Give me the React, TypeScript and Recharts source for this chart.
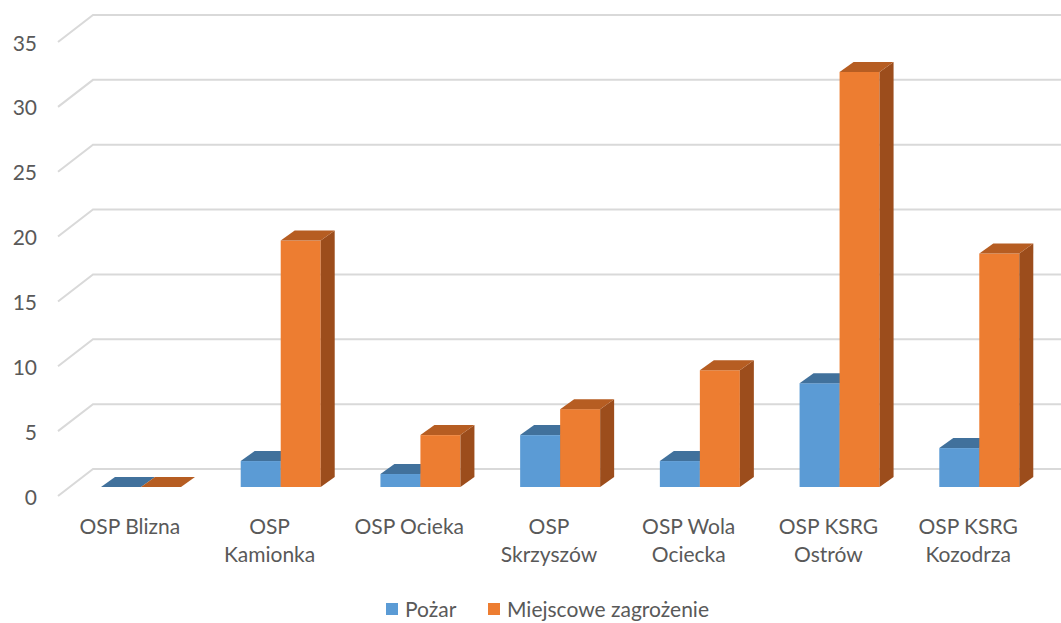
import React from "react";
import { BarChart, Bar, XAxis, YAxis, CartesianGrid, Legend } from "recharts";

const categories = [
  "OSP Blizna",
  "OSP\nKamionka",
  "OSP Ocieka",
  "OSP\nSkrzyszów",
  "OSP Wola\nOciecka",
  "OSP KSRG\nOstrów",
  "OSP KSRG\nKozodrza",
];
const pozar = [0, 2, 1, 4, 2, 8, 3];
const miejscowe = [0, 19, 4, 6, 9, 32, 18];
const yTicks = [0, 5, 10, 15, 20, 25, 30, 35];
const seriesNames = ["Pożar", "Miejscowe zagrożenie"];

const data = categories.map((c, i) => ({ name: c, pozar: pozar[i], miejscowe: miejscowe[i] }));

const FONT = "Lato, 'Open Sans', sans-serif";
const TEXT = "#595959";
const DX = 14;
const DY = 10;

const make3D = (front: string, top: string, side: string) => (props: any) => {
  const { x, y, width, height } = props;
  const h = Math.max(0, height || 0);
  const w = width;
  return (
    <g>
      {h > 0 && <rect x={x} y={y} width={w} height={h} fill={front} />}
      {h > 0 && (
        <polygon
          points={`${x + w},${y} ${x + w + DX},${y - DY} ${x + w + DX},${y + h - DY} ${x + w},${y + h}`}
          fill={side}
        />
      )}
      <polygon
        points={`${x},${y} ${x + DX},${y - DY} ${x + w + DX},${y - DY} ${x + w},${y}`}
        fill={top}
      />
    </g>
  );
};

const BlueShape = make3D("#5B9BD5", "#41719C", "#3F6E99");
const OrangeShape = make3D("#ED7D31", "#B65D22", "#9C4D1C");

const gridLine = (props: any) => {
  const y = props.y1;
  return (
    <path
      key={props.key}
      d={`M58,${y + 9} L93,${y - 18} L1061,${y - 18}`}
      stroke="#D9D9D9"
      strokeWidth={2}
      fill="none"
    />
  );
};

const YTick = (props: any) => {
  const { y, payload } = props;
  return (
    <text x={37} y={y + 9} textAnchor="end" dominantBaseline="central" fill={TEXT} fontSize={21} fontFamily={FONT}>
      {payload.value}
    </text>
  );
};

const XTick = (props: any) => {
  const { x, payload } = props;
  const lines = String(payload.value).split("\n");
  return (
    <text x={x - 11} y={525} textAnchor="middle" fill={TEXT} fontSize={21} fontFamily={FONT}>
      {lines.map((l, i) => (
        <tspan key={i} x={x - 11} y={525 + i * 28} dominantBaseline="central">
          {l}
        </tspan>
      ))}
    </text>
  );
};

const LegendContent = () => (
  <div style={{ position: "relative", height: 50, fontFamily: FONT, fontSize: 21, color: TEXT }}>
    <div style={{ position: "absolute", left: 386, top: 30, width: 12, height: 12, background: "#5B9BD5" }} />
    <div style={{ position: "absolute", left: 405, top: 22, lineHeight: "28px" }}>{seriesNames[0]}</div>
    <div style={{ position: "absolute", left: 488, top: 30, width: 12, height: 12, background: "#ED7D31" }} />
    <div style={{ position: "absolute", left: 507, top: 22, lineHeight: "28px", whiteSpace: "nowrap" }}>{seriesNames[1]}</div>
  </div>
);

export default function App() {
  return (
    <div style={{ position: "absolute", left: 0, top: 0, width: 1061, height: 623, background: "#fff" }}>
      <BarChart
        width={1061}
        height={623}
        data={data}
        margin={{ top: 33, right: 12, bottom: 0, left: 0 }}
        barSize={40}
        barGap={0}
      >
        <CartesianGrid vertical={false} horizontal={gridLine as any} />
        <YAxis
          width={71}
          domain={[0, 35]}
          ticks={yTicks}
          axisLine={false}
          tickLine={false}
          tick={<YTick />}
          interval={0}
        />
        <XAxis
          dataKey="name"
          height={86}
          axisLine={false}
          tickLine={false}
          tick={<XTick />}
          interval={0}
        />
        <Legend
          verticalAlign="bottom"
          height={50}
          wrapperStyle={{ left: 0, width: 1061 }}
          content={<LegendContent />}
        />
        <Bar dataKey="pozar" name={seriesNames[0]} fill="#5B9BD5" shape={BlueShape} isAnimationActive={false} />
        <Bar dataKey="miejscowe" name={seriesNames[1]} fill="#ED7D31" shape={OrangeShape} isAnimationActive={false} />
      </BarChart>
    </div>
  );
}
